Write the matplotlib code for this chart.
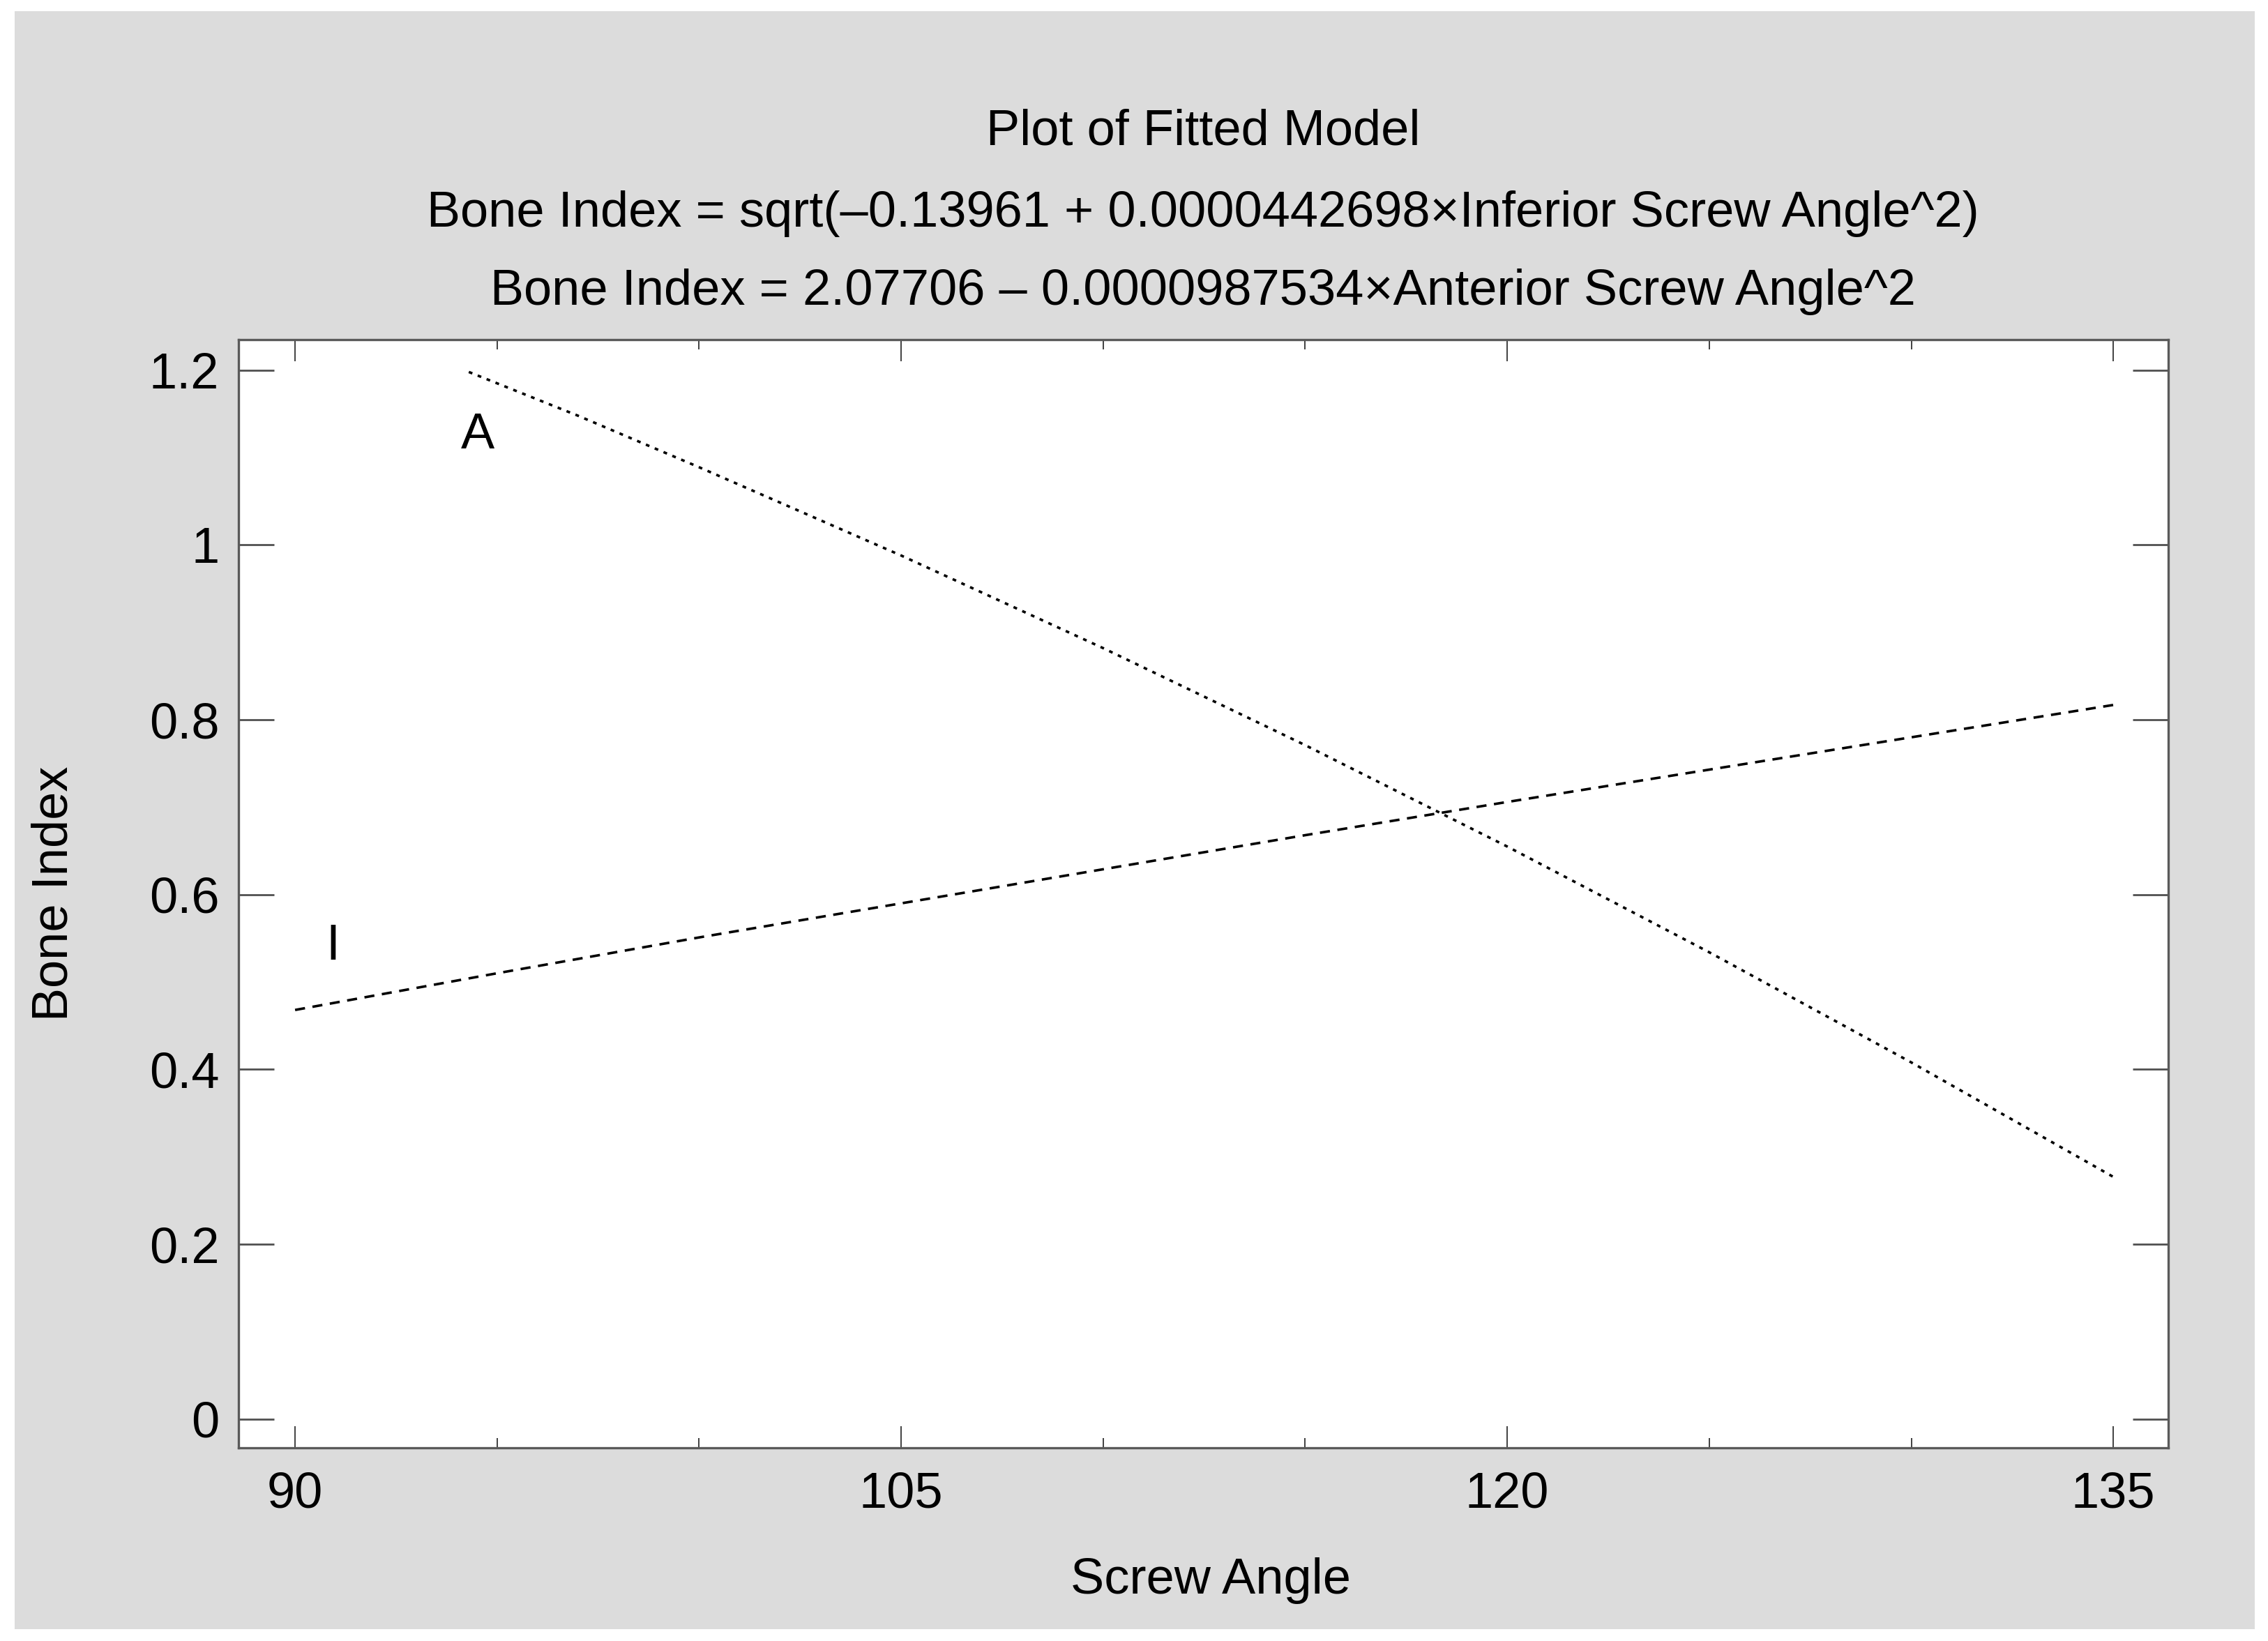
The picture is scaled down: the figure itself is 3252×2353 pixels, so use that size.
import matplotlib
matplotlib.use("Agg")
import matplotlib.pyplot as plt
from matplotlib.patches import Rectangle
from matplotlib.ticker import MultipleLocator, FixedLocator, FuncFormatter

plt.rcParams['font.family'] = ['Liberation Sans', 'DejaVu Sans']

# values
angle_A = [94.3, 97, 100, 105, 110, 115, 120, 125, 130, 135]
bone_A = [1.198, 1.148, 1.089, 0.988, 0.882, 0.771, 0.655, 0.534, 0.408, 0.277]

angle_I = [90, 95, 100, 105, 110, 115, 120, 125, 130, 135]
bone_I = [0.468, 0.510, 0.551, 0.590, 0.629, 0.668, 0.706, 0.743, 0.780, 0.817]

x_major = [90, 105, 120, 135]
y_ticks = [0, 0.2, 0.4, 0.6, 0.8, 1.0, 1.2]

title_lines = ["Plot of Fitted Model",
               "Bone Index = sqrt(\u20130.13961 + 0.0000442698\u00d7Inferior Screw Angle^2)",
               "Bone Index = 2.07706 \u2013 0.0000987534\u00d7Anterior Screw Angle^2"]

W, H = 3252, 2353
fig = plt.figure(figsize=(W / 100, H / 100), dpi=100, facecolor='white')
fig.patches.append(Rectangle((21 / W, 1 - 2336 / H), (3233 - 21) / W, (2336 - 16) / H,
                             transform=fig.transFigure, facecolor='#dcdcdc',
                             edgecolor='none', zorder=-10))

ax = fig.add_axes([342 / W, 1 - 2076 / H, (3109 - 342) / W, (2076 - 487) / H])
ax.set_facecolor('white')

ax.plot(angle_A, bone_A, color='#000000', lw=2.6, linestyle=(0, (1.5, 2.3)))
ax.plot(angle_I, bone_I, color='#000000', lw=2.6, linestyle=(0, (4.0, 3.0)))

fs = 52
ax.text(94.52, 1.125, "A", fontsize=fs, ha='center', va='center')
ax.text(90.93, 0.54, "I", fontsize=fs, ha='center', va='center')

ax.set_xlim(88.6, 136.36)
ax.set_ylim(-0.033, 1.235)

ax.xaxis.set_major_locator(FixedLocator(x_major))
ax.xaxis.set_minor_locator(MultipleLocator(5))
ax.yaxis.set_major_locator(FixedLocator(y_ticks))
ax.yaxis.set_major_formatter(FuncFormatter(lambda v, p: "%g" % v))

ax.tick_params(axis='x', which='major', direction='in', length=22, width=1.4,
               color='#404040', top=True, labelsize=fs, pad=24)
ax.tick_params(axis='x', which='minor', direction='in', length=10, width=1.4,
               color='#404040', top=True)
ax.tick_params(axis='y', which='major', direction='in', length=37, width=2.0,
               color='#505050', right=True, labelsize=fs, pad=20)

for s in ax.spines.values():
    s.set_color('#5a5a5a')
    s.set_linewidth(2.4)

for ln, yb in zip(title_lines, [208, 325, 437]):
    fig.text(1725 / W, 1 - yb / H, ln, fontsize=fs, ha='center', va='baseline')

fig.text(1736 / W, 1 - 2285 / H, "Screw Angle", fontsize=fs, ha='center', va='baseline')
fig.text(78 / W, 1 - 1281 / H, "Bone Index", fontsize=fs, ha='center', va='center',
         rotation=90)

fig.savefig("out.png", dpi=100, facecolor='white')
